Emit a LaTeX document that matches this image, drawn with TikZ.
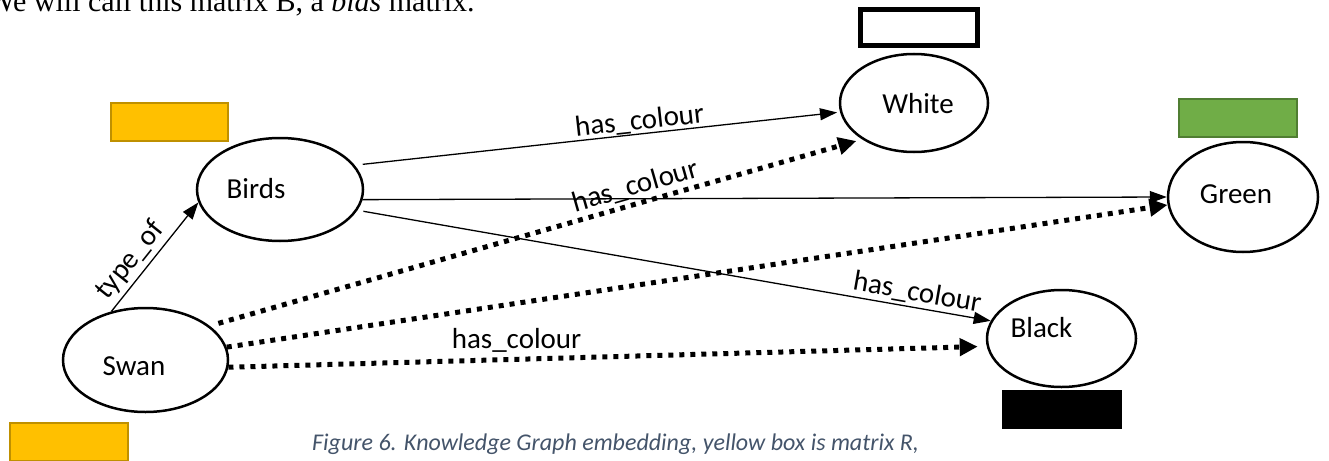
\documentclass[tikz,border=0pt]{standalone}
\usepackage{fontspec}
\setmainfont{Liberation Serif}
\newfontfamily\calibri{Carlito}
\usetikzlibrary{arrows.meta,shapes.geometric}
\definecolor{ryellow}{HTML}{FFC000}
\definecolor{ryellowedge}{HTML}{BF9000}
\definecolor{bgreen}{HTML}{70AD47}
\definecolor{bgreenedge}{HTML}{507E32}
\definecolor{captionblue}{HTML}{44546A}
\begin{document}
\begin{tikzpicture}[x=1pt,y=-1pt,
  ent/.style={ellipse,draw,line width=2.5pt,inner sep=0pt},
  lbl/.style={font=\calibri\fontsize{29}{34}\selectfont},
  rel/.style={line width=1.3pt,-{Triangle[length=17pt,width=12pt]}},
  emb/.style={line width=5pt,dash pattern=on 5pt off 6pt,-{Triangle[length=18pt,width=17pt]}},
  matbox/.style={rectangle,inner sep=0pt,line width=2pt}]
\useasboundingbox (0,0) rectangle (1329,460);

% running text above the figure
\node[anchor=base west,inner sep=0pt,font=\fontsize{30}{36}\selectfont] (bodyline) at (-13,12)
  {We will call this matrix B, a \textit{bias} matrix.};

% entities
\node[ent,minimum width=165pt,minimum height=104pt,label={[lbl,xshift=-11.5pt,yshift=-6pt]center:Swan}] (swan) at (145.5,360) {};
\node[ent,minimum width=166pt,minimum height=103pt,label={[lbl,xshift=-24pt,yshift=1pt]center:Birds}] (birds) at (280,189.5) {};
\node[ent,minimum width=148pt,minimum height=98pt,label={[lbl,xshift=4pt,yshift=-1pt]center:White}] (white) at (914,103) {};
\node[ent,minimum width=150pt,minimum height=110pt,label={[lbl,xshift=-7pt,yshift=2.5pt]center:Green}] (green) at (1243,197) {};
\node[ent,minimum width=149pt,minimum height=97pt,label={[lbl,xshift=-20pt,yshift=11pt]center:Black}] (black) at (1061.5,338.5) {};

% embedding matrices
\node[matbox,fill=ryellow,draw=ryellowedge,minimum width=117pt,minimum height=38pt] (rbirds) at (169.5,122) {};
\node[matbox,fill=ryellow,draw=ryellowedge,minimum width=118pt,minimum height=38pt] (rswan) at (69,442) {};
\node[matbox,fill=bgreen,draw=bgreenedge,minimum width=118pt,minimum height=38pt] (mgreen) at (1238,118) {};
\node[matbox,fill=white,draw=black,line width=5pt,minimum width=117pt,minimum height=36pt] (mwhite) at (919,27.5) {};
\node[matbox,fill=black,draw=black,minimum width=118pt,minimum height=37pt] (mblack) at (1062,409.5) {};

% known relations
\draw[rel] (swan.125) -- node[lbl,sloped,above,inner sep=4pt,pos=.37] {type\_of} (birds.189);
\draw[rel,shorten <=8pt,shorten >=3pt] (birds.18) -- node[lbl,sloped,above,inner sep=0pt,pos=.59] {has\_colour} (white.187);
\draw[rel] (birds.-7) -- (green.180);
\draw[rel,shorten <=6pt] (birds.-15) -- node[lbl,sloped,above,inner sep=2pt,pos=.88] {has\_colour} (black.166);

% predicted relations
\draw[emb,shorten <=9pt,shorten >=6pt] (swan.28) -- node[lbl,sloped,above,inner sep=2.5pt,pos=.66] {has\_colour} (white.215);
\draw[emb] (swan.9) -- (green.186);
\draw[emb,shorten >=9pt] (swan.-5) -- node[lbl,above=4pt,inner sep=0pt,pos=.38] {has\_colour} (black.186);

% caption
\node[anchor=base west,inner sep=0pt,font=\calibri\itshape\fontsize{24}{28}\selectfont,text=captionblue] (caption) at (312,450)
  {Figure 6. Knowledge Graph embedding, yellow box is matrix R,};
\end{tikzpicture}
\end{document}
